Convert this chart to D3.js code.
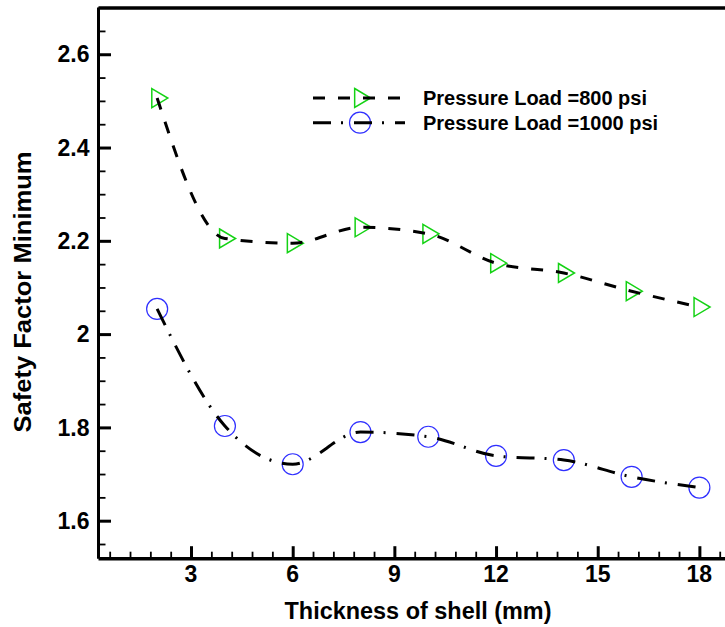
<!DOCTYPE html>
<html><head><meta charset="utf-8">
<script src="https://cdn.jsdelivr.net/npm/d3@7"></script>
<style>body{margin:0;background:#fff}svg{display:block;font-family:"Liberation Sans",Arial,sans-serif;font-weight:bold}</style>
</head><body>
<svg id="chart" width="725" height="627"></svg>
<script>
const thickness = [2, 4, 6, 8, 10, 12, 14, 16, 18];
const sf800 = [2.506, 2.205, 2.195, 2.229, 2.215, 2.152, 2.131, 2.092, 2.058];
const sf1000 = [2.054, 1.803, 1.721, 1.790, 1.780, 1.739, 1.730, 1.694, 1.671];
const xTickValues = [3, 6, 9, 12, 15, 18];
const yTickValues = [1.6, 1.8, 2.0, 2.2, 2.4, 2.6];
const seriesNames = ["Pressure Load =800 psi", "Pressure Load =1000 psi"];

const svg = d3.select("#chart");
const x = d3.scaleLinear().domain([0.27, 18.8]).range([98.5, 726.5]);
const y = d3.scaleLinear().domain([1.5185, 2.7]).range([558.7, 7.6]);

const fmtY = v => (Math.abs(v - 2) < 1e-9 ? "2" : d3.format(".1f")(v));

const xMinor = d3.range(0.6, 18.81, 0.6).filter(v => xTickValues.every(t => Math.abs(t - v) > 1e-6));
const yMinor = d3.range(1.55, 2.701, 0.05).filter(v => yTickValues.every(t => Math.abs(t - v) > 1e-6));

const g = svg.append("g");
const xAxis = d3.axisTop(x).tickValues(xTickValues).tickSize(12.5).tickFormat("");
const gx = g.append("g").attr("transform", `translate(0,${y.range()[0]})`).call(xAxis);
gx.select(".domain").remove();
gx.selectAll(".tick line").attr("stroke", "#000").attr("stroke-width", 3);
const xAxisMinor = d3.axisTop(x).tickValues(xMinor).tickSize(7).tickFormat("");
const gxm = g.append("g").attr("transform", `translate(0,${y.range()[0]})`).call(xAxisMinor);
gxm.select(".domain").remove();
gxm.selectAll(".tick line").attr("stroke", "#000").attr("stroke-width", 1.8);

const yAxis = d3.axisRight(y).tickValues(yTickValues).tickSize(12.5).tickFormat("");
const gy = g.append("g").attr("transform", `translate(${x.range()[0]},0)`).call(yAxis);
gy.select(".domain").remove();
gy.selectAll(".tick line").attr("stroke", "#000").attr("stroke-width", 3);
const yAxisMinor = d3.axisRight(y).tickValues(yMinor).tickSize(7).tickFormat("");
const gym = g.append("g").attr("transform", `translate(${x.range()[0]},0)`).call(yAxisMinor);
gym.select(".domain").remove();
gym.selectAll(".tick line").attr("stroke", "#000").attr("stroke-width", 1.8);

g.selectAll(".xl").data(xTickValues).join("text")
  .attr("x", d => x(d)).attr("y", 582).attr("text-anchor", "middle")
  .attr("font-size", 23).text(d => d);
g.selectAll(".yl").data(yTickValues).join("text")
  .attr("x", 89.5).attr("y", d => y(d) + 8.2).attr("text-anchor", "end")
  .attr("font-size", 23).text(fmtY);

g.append("line").attr("x1", x.range()[0]).attr("x2", x.range()[1]).attr("y1", y.range()[0]).attr("y2", y.range()[0]).attr("stroke", "#000").attr("stroke-width", 3.5);
g.append("line").attr("x1", x.range()[0]).attr("x2", x.range()[0]).attr("y1", y.range()[1]).attr("y2", y.range()[0]).attr("stroke", "#000").attr("stroke-width", 3);
g.append("line").attr("x1", x.range()[0]).attr("x2", x.range()[1]).attr("y1", 8).attr("y2", 8).attr("stroke", "#000").attr("stroke-width", 3.5);

svg.append("text").attr("x", 418).attr("y", 619).attr("text-anchor", "middle")
  .attr("font-size", 23).attr("textLength", 267).attr("lengthAdjust", "spacingAndGlyphs")
  .text("Thickness of shell (mm)");
svg.append("text").attr("transform", "translate(31,292) rotate(-90)").attr("text-anchor", "middle")
  .attr("font-size", 23).attr("textLength", 281).attr("lengthAdjust", "spacingAndGlyphs")
  .text("Safety Factor Minimum");

const tri = d3.symbol().type({draw(ctx, size){
  const w = 16, h = 19;
  ctx.moveTo(-w/3, -h/2); ctx.lineTo(2*w/3, 0); ctx.lineTo(-w/3, h/2); ctx.closePath();
}})();

const line = d3.line().x(d => x(d[0])).y(d => y(d[1])).curve(d3.curveMonotoneX);
const d800 = thickness.map((t, i) => [t, sf800[i]]);
const d1000 = thickness.map((t, i) => [t, sf1000[i]]);

const green = "#14d214", blue = "#2f2fff";
const dash800 = "12,13", dash1000 = "18,10,2,11";

g.selectAll(".m800").data(d800).join("path")
  .attr("d", tri).attr("transform", d => `translate(${x(d[0])},${y(d[1])})`)
  .attr("fill", "none").attr("stroke", green).attr("stroke-width", 1.5);
g.selectAll(".m1000").data(d1000).join("circle")
  .attr("cx", d => x(d[0])).attr("cy", d => y(d[1])).attr("r", 10.5)
  .attr("fill", "none").attr("stroke", blue).attr("stroke-width", 1.2);

g.append("path").datum(d800).attr("d", line).attr("fill", "none").attr("stroke", "#000")
  .attr("stroke-width", 3).attr("stroke-dasharray", dash800);
g.append("path").datum(d1000).attr("d", line).attr("fill", "none").attr("stroke", "#000")
  .attr("stroke-width", 3).attr("stroke-dasharray", dash1000);

const legend = [
  {name: seriesNames[0], dash: dash800, y: 98, marker: "tri"},
  {name: seriesNames[1], dash: dash1000, y: 122.7, marker: "circle"}
];
legend.forEach(l => {
  const lg = svg.append("g");
  if (l.marker === "tri") {
    lg.append("path").attr("d", tri).attr("transform", `translate(360,${l.y})`)
      .attr("fill", "none").attr("stroke", green).attr("stroke-width", 1.5);
  } else {
    lg.append("circle").attr("cx", 360).attr("cy", l.y).attr("r", 10.5)
      .attr("fill", "none").attr("stroke", blue).attr("stroke-width", 1.2);
  }
  lg.append("line").attr("x1", 313).attr("x2", 405).attr("y1", l.y).attr("y2", l.y)
    .attr("stroke", "#000").attr("stroke-width", 3).attr("stroke-dasharray", l.dash);
  lg.append("text").attr("x", 423).attr("y", l.y + 7).attr("font-size", 20).text(l.name);
});
</script>
</body></html>
